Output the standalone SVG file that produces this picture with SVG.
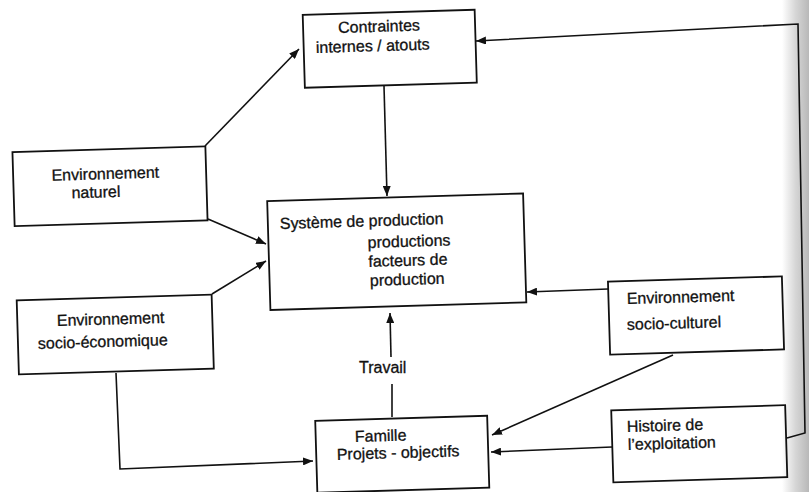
<svg xmlns="http://www.w3.org/2000/svg" width="809" height="492" viewBox="0 0 809 492">
<defs>
<marker id="ah" markerUnits="userSpaceOnUse" markerWidth="10" markerHeight="8" refX="10" refY="4" orient="auto">
<path d="M0,0 L10,4 L0,8 z" fill="#111"/>
</marker>
<linearGradient id="edge" x1="0" y1="0" x2="1" y2="0">
<stop offset="0" stop-color="#ffffff"/>
<stop offset="0.5" stop-color="#d6d6d6"/>
<stop offset="1" stop-color="#b8b8b8"/>
</linearGradient>
<style>
.box{fill:none;stroke:#111;stroke-width:1.8}
.t{font-family:"Liberation Sans",Arial,sans-serif;font-size:16px;fill:#111;stroke:#111;stroke-width:0.3}
.c{fill:none;stroke:#111;stroke-width:1.6}
.ca{fill:none;stroke:#111;stroke-width:1.6;marker-end:url(#ah)}
</style>
</defs>
<rect width="809" height="492" fill="#fff"/>
<rect x="782" y="0" width="27" height="492" fill="url(#edge)"/>
<g id="connectors">
<path class="ca" d="M787,438 L805,433 L798,24 L476,41"/>
<path class="ca" d="M384,86 L387,196"/>
<path class="ca" d="M205,146 L299,49"/>
<path class="ca" d="M208,219 L266,244"/>
<path class="ca" d="M212,294 L266,261"/>
<path class="ca" d="M116,373 L120,469 L313,461"/>
<path class="ca" d="M608,289 L527,292"/>
<path class="ca" d="M673,355 L492,435"/>
<path class="ca" d="M612,447 L491,452"/>
<path class="c" d="M392,417 L392,384"/>
<path class="ca" d="M391,357 L390,313"/>
<text class="t" x="359" y="373">Travail</text>
</g>
<g id="contraintes" transform="rotate(-1.7 389.75 48.75)">
<rect class="box" x="303.75" y="12.25" width="172" height="73"/>
<text class="t" x="338.8" y="31.5">Contraintes</text>
<text class="t" x="315.9" y="50.8">internes / atouts</text>
</g>
<g id="env-naturel" transform="rotate(-1.7 110 186.25)">
<rect class="box" x="13.5" y="149.25" width="193" height="74"/>
<text class="t" x="51.9" y="179">Environnement</text>
<text class="t" x="71.3" y="197.2">naturel</text>
</g>
<g id="env-socio-eco" transform="rotate(-1.7 115.25 334.5)">
<rect class="box" x="17.75" y="297.5" width="195" height="74"/>
<text class="t" x="57.25" y="324.3">Environnement</text>
<text class="t" x="37.6" y="346.7">socio-économique</text>
</g>
<g id="systeme" transform="rotate(-1.7 396.75 251.75)">
<rect class="box" x="268.75" y="197.25" width="256" height="109"/>
<text class="t" x="280.7" y="225.5">Système de production</text>
<text class="t" x="368" y="247.1">productions</text>
<text class="t" x="368" y="266.1">facteurs de</text>
<text class="t" x="369" y="285.2">production</text>
</g>
<g id="env-socio-culturel" transform="rotate(-1.7 696 315.5)">
<rect class="box" x="609" y="279" width="174" height="73"/>
<text class="t" x="627.3" y="302">Environnement</text>
<text class="t" x="626.6" y="328">socio-culturel</text>
</g>
<g id="histoire" transform="rotate(-1.7 699.25 443.75)">
<rect class="box" x="612.25" y="407.75" width="174" height="72"/>
<text class="t" x="627.3" y="429.9">Histoire de</text>
<text class="t" x="627.8" y="447.9">l’exploitation</text>
</g>
<g id="famille" transform="rotate(-1.7 402.25 454.25)">
<rect class="box" x="316.25" y="418.25" width="172" height="72"/>
<text class="t" x="355.4" y="440.6">Famille</text>
<text class="t" x="336.8" y="458">Projets - objectifs</text>
</g>
</svg>
